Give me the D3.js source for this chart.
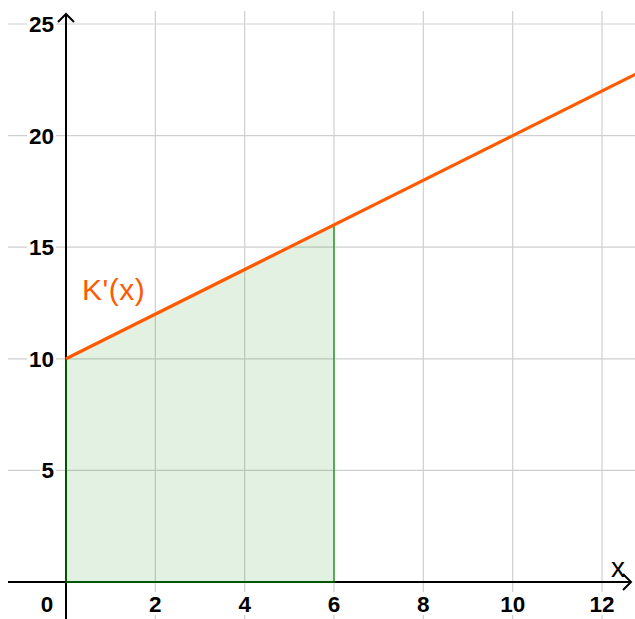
<!DOCTYPE html>
<html><head><meta charset="utf-8">
<script src="https://cdn.jsdelivr.net/npm/d3@7"></script>
<style>html,body{margin:0;padding:0;background:#fff;}svg{display:block;}</style>
</head><body>
<svg id="c" width="635" height="619"></svg>
<script>
const xTicks = [0, 2, 4, 6, 8, 10, 12];
const yTicks = [5, 10, 15, 20, 25];
const lineX = [0, 13];
const lineY = [10, 23];
const areaX = [0, 6];
const funcLabel = "K'(x)";
const axisLabel = "x";

const W = 635, H = 619;
const svg = d3.select("#c");
const x = d3.scaleLinear().domain([0, 12]).range([66, 602]);
const y = d3.scaleLinear().domain([0, 25]).range([582, 24]);
const f = v => lineY[0] + (lineY[1]-lineY[0])/(lineX[1]-lineX[0])*(v - lineX[0]);

// grid
svg.append("g").selectAll("line").data(xTicks.filter(d=>d!==0)).join("line")
  .attr("x1", d=>x(d)).attr("x2", d=>x(d)).attr("y1", 11).attr("y2", H)
  .attr("stroke", "#cfcfcf").attr("stroke-width", 1.2);
svg.append("g").selectAll("line").data(yTicks).join("line")
  .attr("x1", 8).attr("x2", W).attr("y1", d=>y(d)).attr("y2", d=>y(d))
  .attr("stroke", "#cfcfcf").attr("stroke-width", 1.2);

// axes
svg.append("line").attr("x1", 8).attr("x2", 631).attr("y1", y(0)).attr("y2", y(0))
  .attr("stroke", "#000").attr("stroke-width", 2);
svg.append("path").attr("d", `M${623},${y(0)-8} L${631},${y(0)} L${623},${y(0)+8}`)
  .attr("fill", "none").attr("stroke", "#000").attr("stroke-width", 2);
svg.append("line").attr("x1", x(0)).attr("x2", x(0)).attr("y1", H).attr("y2", 14)
  .attr("stroke", "#000").attr("stroke-width", 2);
svg.append("path").attr("d", `M${x(0)-8},${22} L${x(0)},${14} L${x(0)+8},${22}`)
  .attr("fill", "none").attr("stroke", "#000").attr("stroke-width", 2);

// area
const areaPts = [[areaX[0],0],[areaX[0],f(areaX[0])],[areaX[1],f(areaX[1])],[areaX[1],0]];
svg.append("path")
  .attr("d", d3.line().x(d=>x(d[0])).y(d=>y(d[1]))(areaPts) + "Z")
  .attr("fill", "rgba(0,128,0,0.11)").attr("stroke", "rgba(0,140,0,0.6)").attr("stroke-width", 2);

// function line
svg.append("path")
  .attr("d", d3.line().x(d=>x(d)).y(d=>y(f(d)))(lineX))
  .attr("stroke", "#ff5a00").attr("stroke-width", 3.2).attr("fill", "none");

svg.append("text").attr("x", 82).attr("y", 300).text(funcLabel)
  .attr("font-family", "Liberation Sans, Arial, sans-serif").attr("font-size", 30)
  .attr("letter-spacing", 0.5)
  .attr("fill", "#ff5a00");

// tick labels
const font = "Liberation Sans, Arial, sans-serif";
const fs = 22.5;
const yl = svg.append("g").selectAll("g").data(yTicks).join("g");
yl.append("rect").attr("x", d=> d>=10 ? 27 : 40).attr("y", d=>y(d)-10)
  .attr("width", d=> d>=10 ? 29 : 16).attr("height", 21).attr("fill", "#fff");
yl.append("text").attr("x", 54).attr("y", d=>y(d)+8).attr("text-anchor", "end")
  .text(d=>d).attr("font-family", font).attr("font-weight", "bold").attr("font-size", fs);

const xl = svg.append("g").selectAll("g").data(xTicks.filter(d=>d!==0)).join("g");
xl.append("rect").attr("x", d=>x(d) - (d>=10?15:7)).attr("y", 592)
  .attr("width", d=> d>=10 ? 30 : 14).attr("height", 23).attr("fill", "#fff");
xl.append("text").attr("x", d=>x(d)).attr("y", 612).attr("text-anchor", "middle")
  .text(d=>d).attr("font-family", font).attr("font-weight", "bold").attr("font-size", fs);
svg.append("text").attr("x", 47).attr("y", 612).attr("text-anchor", "middle")
  .text(xTicks[0]).attr("font-family", font).attr("font-weight", "bold").attr("font-size", fs);

svg.append("text").attr("x", 611).attr("y", 577).text(axisLabel)
  .attr("font-family", font).attr("font-size", 28).attr("fill", "#000");
</script>
</body></html>
